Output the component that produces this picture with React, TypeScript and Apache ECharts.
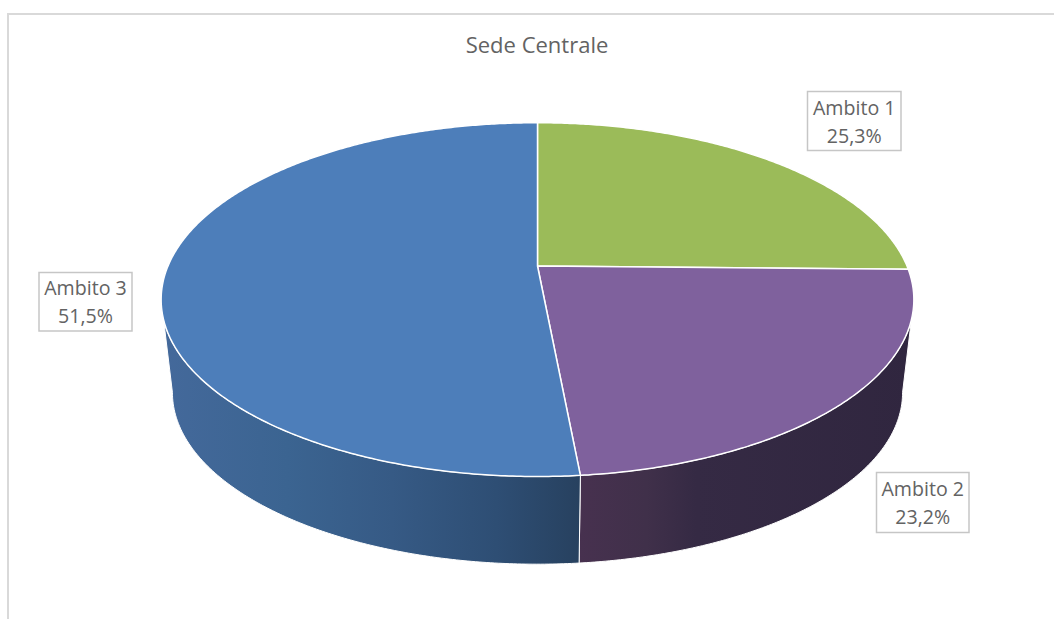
import React, { useEffect, useRef } from "react";
import * as echarts from "echarts";

const titleText = "Sede Centrale";
const categories = ["Ambito 1", "Ambito 2", "Ambito 3"];
const seriesValues = [25.3, 23.2, 51.5];
const valueLabels = ["25,3%", "23,2%", "51,5%"];

const topColors = ["#9BBB59", "#7F619D", "#4D7EBA"];
const sideStops: ([number, string][] | null)[] = [
  null,
  [[0, "#47314F"], [0.2, "#40304A"], [0.35, "#352A44"], [1, "#30263F"]],
  [[0, "#44699B"], [0.3, "#3B6491"], [0.55, "#365A85"], [0.8, "#2E4E74"], [1, "#27415F"]],
];
const labelBoxes = [
  { x: 807.5, y: 91.5, w: 93.5, h: 59 },
  { x: 876.5, y: 472.5, w: 92.5, h: 60 },
  { x: 39, y: 272.5, w: 93, h: 58.5 },
];

// Perspective disc geometry
const X0 = 537.5;
const Y0 = 266;
const R = 369.5;
const H = 170.5;
const C = 0.19;
const SHRINK = 0.97;
const DEPTH = 93;

const total = seriesValues.reduce((a, b) => a + b, 0);
const startOf = (i: number) =>
  (seriesValues.slice(0, i).reduce((a, b) => a + b, 0) / total) * 360;

const project = (deg: number): [number, number] => {
  const a = (deg * Math.PI) / 180;
  const u = Math.sin(a);
  const v = Math.cos(a);
  const k = 1 + C * v;
  return [X0 + (R * u) / k, Y0 - (H * v) / k];
};
const lower = ([x, y]: [number, number]): [number, number] => [
  X0 + (x - X0) * SHRINK,
  Y0 + 33.5 + (y - Y0 - 33.5) * SHRINK + DEPTH,
];
const arc = (from: number, to: number) => {
  const pts: [number, number][] = [];
  const n = Math.max(2, Math.ceil(Math.abs(to - from) * 2));
  for (let i = 0; i <= n; i++) pts.push(project(from + ((to - from) * i) / n));
  return pts;
};

// angles at which the top ellipse reaches its left and right extremes
const EDGE = (Math.acos(-C) * 180) / Math.PI;
const FRONT_FROM = EDGE;
const FRONT_TO = 360 - EDGE;

const renderSide = (params: any, api: any) => {
  const i = params.dataIndex;
  const stops = sideStops[i];
  const start = startOf(i);
  const from = Math.max(start, FRONT_FROM);
  const to = Math.min(start + (api.value(0) / total) * 360, FRONT_TO);
  if (!stops || to <= from) return { type: "group", children: [] };
  const top = arc(from, to);
  const bottom = top.map(lower).reverse();
  return {
    type: "polygon",
    silent: true,
    shape: { points: [...top, ...bottom] },
    style: {
      fill: new echarts.graphic.LinearGradient(
        0, 0, 1, 0,
        stops.map(([offset, color]) => ({ offset, color }))
      ),
      stroke: "#ffffff",
      lineWidth: 1,
    },
  };
};

const renderTop = (params: any, api: any) => {
  const i = params.dataIndex;
  const from = startOf(i);
  const to = from + (api.value(0) / total) * 360;
  return {
    type: "polygon",
    silent: true,
    shape: { points: [[X0, Y0], ...arc(from, to)] },
    style: { fill: topColors[i], stroke: "#ffffff", lineWidth: 1.5, lineJoin: "round" },
  };
};

const renderLabel = (params: any) => {
  const i = params.dataIndex;
  const b = labelBoxes[i];
  const font = '19.6px "Open Sans", "Noto Sans", sans-serif';
  const cx = b.x + b.w / 2;
  return {
    type: "group",
    silent: true,
    children: [
      {
        type: "rect",
        shape: { x: b.x, y: b.y, width: b.w, height: b.h },
        style: { fill: "#ffffff", stroke: "#C6C6C6", lineWidth: 1.5 },
      },
      {
        type: "text",
        style: { text: categories[i], x: cx, y: b.y + b.h / 2 - 14, align: "center", verticalAlign: "middle", fill: "#636363", font },
      },
      {
        type: "text",
        style: { text: valueLabels[i], x: cx, y: b.y + b.h / 2 + 14, align: "center", verticalAlign: "middle", fill: "#636363", font },
      },
    ],
  };
};

export default function App() {
  const ref = useRef<HTMLDivElement>(null);
  useEffect(() => {
    const chart = echarts.init(ref.current!, null, { renderer: "svg" });
    const data = seriesValues.map((value, i) => ({ name: categories[i], value }));
    chart.setOption({
      animation: false,
      backgroundColor: "#ffffff",
      title: {
        text: titleText,
        left: 532,
        top: 28,
        textAlign: "center",
        textStyle: {
          color: "#636363",
          fontSize: 22,
          fontWeight: "normal",
          fontFamily: '"Open Sans", "Noto Sans", sans-serif',
        },
      },
      graphic: [
        { type: "line", silent: true, shape: { x1: 8, y1: 14, x2: 1054, y2: 14 }, style: { stroke: "#D9D9D9", lineWidth: 2 } },
        { type: "line", silent: true, shape: { x1: 8, y1: 13, x2: 8, y2: 619 }, style: { stroke: "#D9D9D9", lineWidth: 2 } },
      ],
      series: [
        { type: "custom", coordinateSystem: "none", z: 1, renderItem: renderSide, data, silent: true },
        { type: "custom", coordinateSystem: "none", z: 2, renderItem: renderTop, data, silent: true },
        { type: "custom", coordinateSystem: "none", z: 3, renderItem: renderLabel, data, silent: true },
      ],
    });
    return () => chart.dispose();
  }, []);
  return <div ref={ref} style={{ position: "fixed", left: 0, top: 0, width: 1054, height: 619 }} />;
}
